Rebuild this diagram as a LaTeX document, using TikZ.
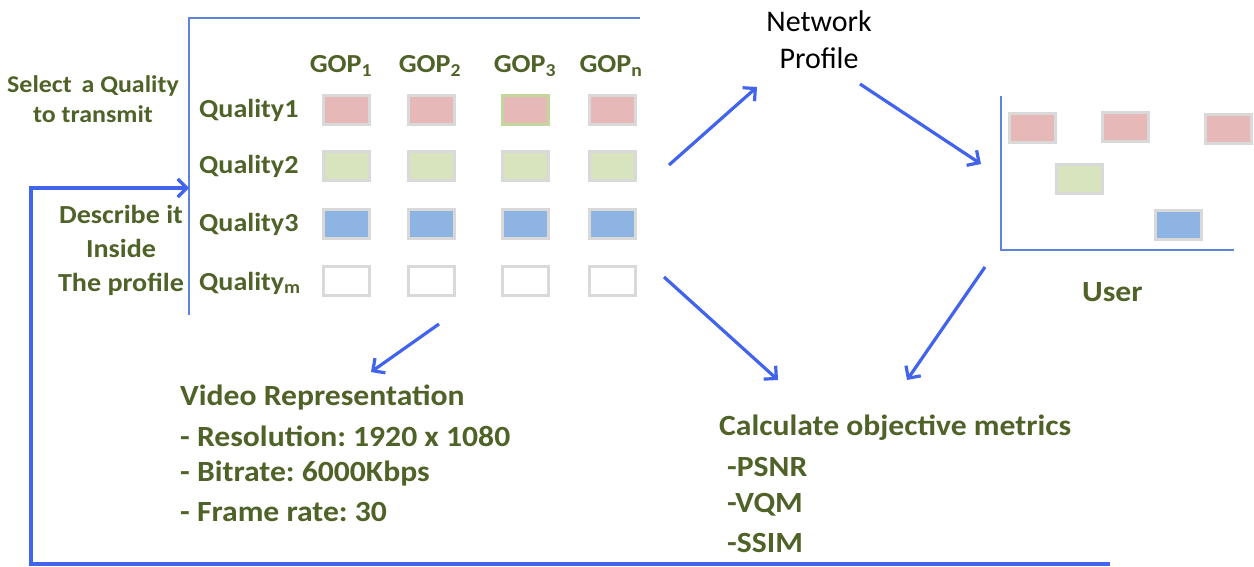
\documentclass[tikz,border=0pt]{standalone}
\usepackage{fontspec}
\setmainfont{Carlito}
\newfontfamily\wfont[FakeStretch=1.08]{Carlito}
\usetikzlibrary{arrows.meta}
\frenchspacing
\definecolor{txtgreen}{RGB}{79,98,40}
\definecolor{framblue}{RGB}{95,130,220}
\definecolor{arrblue}{RGB}{66,99,235}
\definecolor{cpink}{RGB}{230,185,184}
\definecolor{cgreen}{RGB}{215,228,189}
\definecolor{cblue}{RGB}{142,180,227}
\definecolor{cgray}{RGB}{217,217,217}
\definecolor{cborderg}{RGB}{195,214,155}
\tikzset{
  lbl/.style={text=txtgreen, font=\wfont\bfseries\fontsize{26}{30}\selectfont, inner sep=0},
  sml/.style={text=txtgreen, font=\wfont\bfseries\fontsize{24}{30}\selectfont, inner sep=0, align=center},
  big/.style={text=txtgreen, font=\wfont\bfseries\fontsize{29.3}{33}\selectfont, inner sep=0, anchor=west},
  netw/.style={text=black, font=\fontsize{30}{37}\selectfont, inner sep=0, align=center},
  cell/.style={draw=cgray, line width=3pt, minimum width=46pt, minimum height=29pt, inner sep=0},
  framel/.style={draw=framblue, line width=1.5pt},
  flow/.style={draw=arrblue, line width=3.2pt, -{Straight Barb[length=9pt,width=18pt,line width=3.2pt]}}
}
\begin{document}
\begin{tikzpicture}[x=1pt,y=-1pt]
\useasboundingbox[fill=white] (0,0) rectangle (1254,567);
% table frame
\coordinate (tfb) at (189,315);
\coordinate (tft) at (189,18);
\coordinate (tfr) at (640,18);
\draw[framel] (tfb) -- (tft) -- (tfr);
% GOP headers
\node[lbl] (g1) at (341,66) {GOP\textsubscript{1}};
\node[lbl] (g2) at (430,66) {GOP\textsubscript{2}};
\node[lbl] (g3) at (525,66) {GOP\textsubscript{3}};
\node[lbl] (gn) at (611,66) {GOP\textsubscript{n}};
% quality labels
\node[lbl,anchor=west] (q1) at (199,110) {Quality1};
\node[lbl,anchor=west] (q2) at (199,166) {Quality2};
\node[lbl,anchor=west] (q3) at (199,224) {Quality3};
\node[lbl,anchor=west] (qm) at (199,283) {Quality\textsubscript{m}};
% cells
\foreach \c/\x in {1/346,2/431,3/525,4/612}{
  \node[cell,fill=cgreen] (c2\c) at (\x,166) {};
  \node[cell,fill=cblue] (c3\c) at (\x,224) {};
  \node[cell,fill=white] (c4\c) at (\x,281) {};
}
\node[cell,fill=cpink] (c11) at (346,110) {};
\node[cell,fill=cpink] (c12) at (431,110) {};
\node[cell,fill=cpink,draw=cborderg] (c13) at (525,110) {};
\node[cell,fill=cpink] (c14) at (612,110) {};
% left texts
\node[sml] (sel) at (93,99) {Select\, a Quality\\to transmit};
\node[lbl,align=center] (desc) at (121,250) {Describe it\\[4pt]Inside\\[4pt]The profile};
% network profile
\node[netw] (np) at (819,40) {Network\\Profile};
% user frame
\coordinate (uft) at (1001,96);
\coordinate (ufb) at (1001,250);
\coordinate (ufr) at (1234,250);
\draw[framel] (uft) -- (ufb) -- (ufr);
\node[cell,fill=cpink] (u1) at (1032,128) {};
\node[cell,fill=cpink] (u2) at (1125,127) {};
\node[cell,fill=cpink] (u3) at (1228,129) {};
\node[cell,fill=cgreen] (u4) at (1079,179) {};
\node[cell,fill=cblue] (u5) at (1178,225) {};
\node[big] (user) at (1082,292) {User};
% bottom texts
\node[big] (vr) at (180,398) {Video Representation};
\node[big] (vr1) at (180,436) {- Resolution: 1920 x 1080};
\node[big] (vr2) at (180,474) {- Bitrate: 6000Kbps};
\node[big] (vr3) at (180,512) {- Frame rate: 30};
\node[big] (cm) at (719,428) {Calculate objective metrics};
\node[big] (cm1) at (727,467) {-PSNR};
\node[big] (cm2) at (727,505) {-VQM};
\node[big] (cm3) at (727,543) {-SSIM};
% arrows
\coordinate (a1s) at (669,165); \coordinate (a1e) at (757,87);
\coordinate (a2s) at (860,84);  \coordinate (a2e) at (981,164);
\coordinate (a3s) at (664,277); \coordinate (a3e) at (778,380);
\coordinate (a4s) at (985,267); \coordinate (a4e) at (907,380);
\coordinate (a5s) at (439,324); \coordinate (a5e) at (371,372);
\draw[flow] (a1s) -- (a1e);
\draw[flow] (a2s) -- (a2e);
\draw[flow] (a3s) -- (a3e);
\draw[flow] (a4s) -- (a4e);
\draw[flow] (a5s) -- (a5e);
% feedback loop
\coordinate (fb0) at (1110,564);
\coordinate (fb1) at (31,564);
\coordinate (fb2) at (31,188);
\coordinate (fb3) at (189,188);
\draw[flow] (fb0) -- (fb1) -- (fb2) -- (fb3);
\end{tikzpicture}
\end{document}
